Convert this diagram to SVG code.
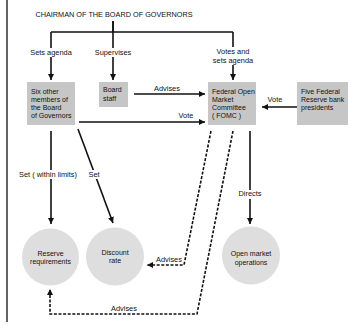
<svg xmlns="http://www.w3.org/2000/svg" width="354" height="326" viewBox="0 0 354 326">
<style>
text{font-family:"Liberation Sans",Arial,sans-serif;font-size:7px;fill:#111}
.lbl{font-size:7.4px}
.ctr{text-anchor:middle}
.box{fill:#c6c6c6}
.circ{fill:#dedede}
.bg{fill:#fff}
.ln{fill:none;stroke:#111;stroke-width:1.6}
.ds{fill:none;stroke:#111;stroke-width:1.6;stroke-dasharray:3,1.6}
</style>
<defs>
<marker id="ah" markerUnits="userSpaceOnUse" markerWidth="7" markerHeight="6" refX="6" refY="3" orient="auto">
<path d="M0,0 L6,3 L0,6 Z" fill="#111"/>
</marker>
</defs>
<rect width="354" height="326" fill="#fff"/>
<line x1="7" y1="0" x2="7" y2="322" stroke="#222" stroke-width="1.4"/>

<g id="connectors">
<path class="ln" d="M113,21 V32 M51,32 H233"/>
<line class="ln" x1="51" y1="32" x2="51" y2="80" marker-end="url(#ah)"/>
<line class="ln" x1="113" y1="21" x2="113" y2="80" marker-end="url(#ah)"/>
<line class="ln" x1="233" y1="32" x2="233" y2="80" marker-end="url(#ah)"/>
<line class="ln" x1="134" y1="94" x2="205" y2="94" marker-end="url(#ah)"/>
<line class="ln" x1="79" y1="122" x2="205" y2="122" marker-end="url(#ah)"/>
<line class="ln" x1="297" y1="107" x2="262" y2="107" marker-end="url(#ah)"/>
<line class="ln" x1="51" y1="131" x2="51" y2="224" marker-end="url(#ah)"/>
<line class="ln" x1="78" y1="129" x2="113" y2="223" marker-end="url(#ah)"/>
<line class="ln" x1="250" y1="131" x2="250" y2="224" marker-end="url(#ah)"/>
<path class="ds" d="M211,131 L184,265 H147" marker-end="url(#ah)"/>
<path class="ds" d="M233,131 L197,314 H50 V289" marker-end="url(#ah)"/>
<rect class="bg" x="28" y="48" width="46" height="9"/>
<rect class="bg" x="93" y="48" width="40" height="9"/>
<rect class="bg" x="211" y="47" width="44" height="18"/>
<rect class="bg" x="19" y="170" width="59" height="9"/>
<rect class="bg" x="88" y="170" width="13" height="9"/>
<rect class="bg" x="238" y="190" width="25" height="9"/>
<text class="lbl ctr" x="51" y="55">Sets agenda</text>
<text class="lbl ctr" x="113" y="55">Supervises</text>
<text class="lbl ctr" x="233" y="54">Votes and</text>
<text class="lbl ctr" x="233" y="63">sets agenda</text>
<text class="lbl ctr" x="167" y="91">Advises</text>
<text class="lbl ctr" x="275" y="102">Vote</text>
<text class="lbl ctr" x="186" y="118">Vote</text>
<text class="lbl ctr" x="48" y="177">Set ( within limits)</text>
<text class="lbl ctr" x="94" y="177">Set</text>
<text class="lbl ctr" x="250" y="196">Directs</text>
<text class="lbl ctr" x="169" y="262">Advises</text>
<text class="lbl ctr" x="124" y="311">Advises</text>
</g>

<g id="chairman">
<text x="114" y="17" class="ctr" style="font-size:7.3px">CHAIRMAN OF THE BOARD OF GOVERNORS</text>
</g>
<g id="six-members">
<rect class="box" x="27" y="82" width="48" height="43"/>
<text x="31" y="93.5">Six other</text>
<text x="31" y="101.8">members of</text>
<text x="31" y="110.1">the Board</text>
<text x="31" y="118.4">of Governors</text>
</g>
<g id="board-staff">
<rect class="box" x="99" y="82" width="29" height="25"/>
<text x="103" y="92">Board</text>
<text x="103" y="100.5">staff</text>
</g>
<g id="fomc">
<rect class="box" x="208" y="82" width="48" height="43"/>
<text x="212" y="93.5">Federal Open</text>
<text x="212" y="101.8">Market</text>
<text x="212" y="110.1">Committee</text>
<text x="212" y="118.4">( FOMC )</text>
</g>
<g id="five-presidents">
<rect class="box" x="297" y="82" width="51" height="43"/>
<text x="301" y="93.5">Five Federal</text>
<text x="301" y="101.8">Reserve bank</text>
<text x="301" y="110.1">presidents</text>
</g>
<g id="reserve-requirements">
<circle class="circ" cx="50.5" cy="257" r="28.5"/>
<text class="ctr" x="50.5" y="255.5">Reserve</text>
<text class="ctr" x="50.5" y="264">requirements</text>
</g>
<g id="discount-rate">
<circle class="circ" cx="115" cy="256.5" r="29"/>
<text class="ctr" x="115" y="254.5">Discount</text>
<text class="ctr" x="115" y="263">rate</text>
</g>
<g id="open-market">
<circle class="circ" cx="251" cy="255.5" r="29"/>
<text class="ctr" x="251" y="256">Open market</text>
<text class="ctr" x="251" y="264.5">operations</text>
</g>
</svg>
